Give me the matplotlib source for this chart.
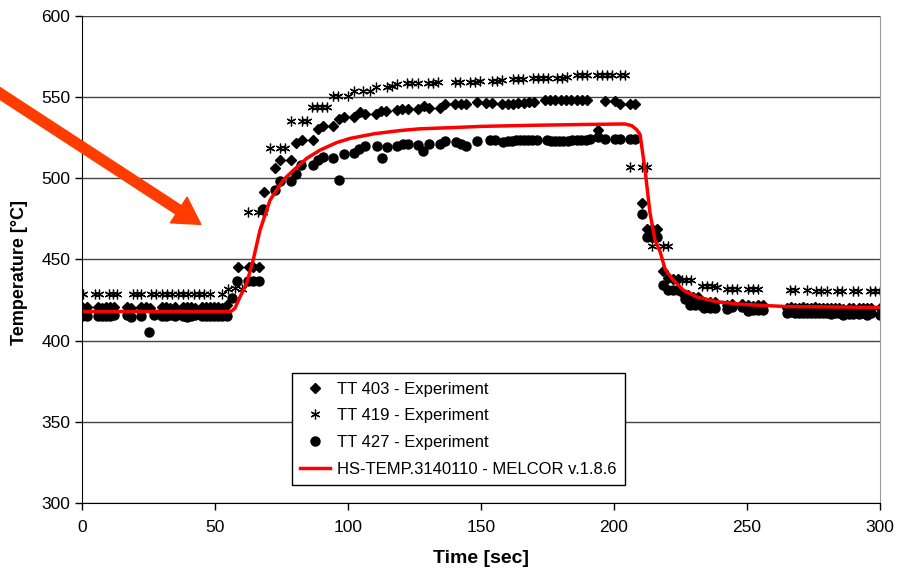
import matplotlib
matplotlib.use('Agg')
import matplotlib.pyplot as plt
from matplotlib.patches import FancyArrowPatch

plt.rcParams['font.family'] = ['Liberation Sans', 'DejaVu Sans']

# TT 403 (diamonds)
t403 = [0, 2, 6, 7.5, 9, 10.5, 12, 17, 18.5, 22, 24, 25.5, 30, 31.5, 33, 35, 38, 39.5, 41, 42.5,
        45, 46.5, 48, 49.5, 51, 52.5, 54.5,
        58.8, 62.9, 64.4, 66.7, 68.5, 72.6, 74.5, 78.5, 80.5, 82.6, 86.7, 88.6, 90.5, 94.5, 96.5,
        98.5, 102.4, 104.5, 106.5, 110.4, 112.4, 114.4, 118.3, 120.4, 122.4, 126.4, 128.6, 130.5,
        134.5, 136.5, 140.3, 142.3, 144.3, 148.4, 152, 154, 158, 160, 162, 164, 166, 168, 170,
        174, 176, 178, 180, 182, 184, 186, 188, 190, 194, 196.5, 200.4, 202.3, 206, 208,
        210.4, 212.3, 214.2, 216, 218.5, 220.4, 222.3, 224.2, 226, 228, 229.8, 231.7, 234, 236, 238,
        242.4, 244.2, 248, 250.5, 252.4, 254.3, 256,
        265, 266.5, 268, 269.5, 271, 272.5, 274, 275.5, 277, 278.5, 280, 281.5, 283, 284.5, 286,
        288.5, 290, 292, 293.5, 295, 296.5, 300]
T403 = [421, 421, 421, 420, 421, 421, 421, 421, 420, 421, 421, 420, 421, 421, 420, 421, 421, 421, 421, 420,
        421, 421, 421, 421, 421, 420, 422,
        445.5, 445.5, 445.5, 445.5, 491.5, 506.5, 511.5, 511.5, 521.5, 523.5, 523.5, 530.5, 532, 532, 536.5,
        537.5, 537.5, 541, 539.5, 539.5, 541.5, 541.5, 542, 542.5, 542.5, 542.5, 544.5, 543.5,
        543.5, 545.5, 545.5, 545.5, 545.5, 547, 546.5, 546.5, 546, 545.5, 546, 546.5, 546.5, 547, 547,
        548, 548, 548, 548, 548, 548, 548, 548, 548.5, 529.5, 547.8, 547.8, 545.6, 545.6, 545.6,
        484.5, 468.5, 468.5, 468.5, 443, 438.5, 438, 438, 429, 428, 427, 427, 424, 424, 424,
        422, 422.5, 422.5, 422, 421.5, 422, 422,
        420, 420.5, 420, 420, 420.5, 420, 420, 420.5, 420, 420, 420, 420, 420, 420, 419.5,
        420, 420, 420, 420, 420, 420, 420]

# TT 419 (asterisks)
t419 = [0.4, 5, 6.5, 10, 11.5, 13, 19, 20.5, 22, 26, 28, 30, 32, 34, 36, 38, 40, 42, 44, 46, 48, 52.5,
        55, 57.5, 60, 62.5, 66.3, 68.2, 70.7, 74.4, 76.3, 78.5, 82.6, 84.6, 86.3, 88.2, 90.1, 92,
        94.5, 96.4, 100.1, 102.4, 105.8, 108.3, 110.4, 114.5, 116.4, 118.3, 122, 124, 126.2, 130.2,
        132, 133.9, 140.2, 142.1, 145.9, 147.7, 149.6, 154, 155.9, 157.8, 162.2, 164, 165.9, 169.7,
        171.5, 173.4, 175.3, 178.4, 180.3, 182.2, 186, 187.9, 189.7, 193.5, 195.4, 197.3, 199.1,
        202.3, 204.1, 206, 210.4, 212.3, 214.2, 218.5, 220.4, 225.4, 227.2, 229, 233, 235, 236.7,
        238.6, 242.4, 244.2, 246.1, 250.5, 252.4, 254.3, 266.2, 268, 272.4, 276, 278, 280, 283.7,
        285.6, 290, 291.8, 296.2, 298.1, 300]
T419 = [429, 429, 429, 429, 429, 429, 429, 429, 429, 429, 429, 429, 429, 429, 429, 429, 429, 429, 429, 429, 429, 429,
        432, 432.5, 432, 479.5, 479.5, 479.5, 518.5, 518.5, 518.5, 535.5, 535.5, 535.5, 544, 544, 544, 544,
        550.5, 550.5, 550.5, 553.8, 553.8, 553.8, 556.5, 556.5, 557, 558, 558.5, 558.5, 559, 559,
        559, 559.5, 559.5, 559.5, 559.5, 559.5, 560, 560, 560, 560.5, 561, 561, 561, 561.5,
        561.5, 561.5, 561.5, 561.5, 561.5, 562.5, 563.5, 563.5, 563.5, 563.5, 563.5, 563.5, 563.5,
        563.5, 563.5, 507, 507, 507, 458.5, 458.5, 458.5, 437.5, 437.5, 437.5, 433.5, 433.5, 433.5,
        433, 432, 432, 432, 432, 432, 432, 431, 431, 431, 430.5, 430.5, 430.5, 430.5,
        430.5, 430.5, 430.5, 430.5, 430.5, 430.5]

# TT 427 (circles)
t427 = [0, 2, 6, 7.5, 9, 10.5, 12, 17, 18.5, 22, 25, 27, 30, 31.5, 33, 35, 38, 39.5, 41, 42.5,
        45, 46.5, 48, 49.5, 51, 52.5, 54.5,
        56.5, 58.4, 62.5, 64.4, 66.7, 68.2, 72.6, 74.4, 78.5, 80.5, 82.3, 86.7, 88.6, 90.5, 94.5,
        96.6, 98.5, 102.4, 104.3, 106.4, 110.8, 112.7, 114.5, 118.5, 120.6, 122.4, 126.4, 128.3,
        130.5, 134.6, 136.5, 140.6, 142.5, 144.4, 148.4,
        153.5, 155.4, 158.4, 160, 161.5, 163, 164.5, 166, 167.5, 169, 170.9, 174.7, 176.3, 178,
        179.5, 181, 182.7, 184.3, 186, 187.6, 189.3, 191, 194.1, 196.6, 200.4, 202.3, 206, 208,
        210.4, 212.3, 214.2, 216, 218.3, 220.4, 222.3, 224.2, 226.7, 228.5, 230.3, 232.2, 234, 236, 238,
        242.4, 244.2, 248, 250.5, 252.4, 254.3, 256,
        265, 266.5, 268, 269.5, 271, 272.5, 274, 275.5, 277, 278.5, 280, 281.5, 283, 284.5, 286,
        288.5, 290, 292, 293.5, 295, 296.5, 300]
T427 = [415, 415, 415, 415, 415, 415.5, 416, 416, 414.5, 415, 405.5, 416, 415, 415, 416, 415, 415, 414.5, 415, 416,
        415, 415, 415.5, 415.5, 415, 415, 415,
        426, 437, 437, 437, 437, 481, 493, 498.5, 498.5, 502.5, 508.5, 508.5, 511.5, 513, 512.5,
        499, 515, 515.5, 518, 520, 520, 512.5, 519.5, 520, 521, 521, 520.5, 517,
        521, 521, 523, 522.5, 521, 520, 523,
        523.5, 523.5, 522.5, 523, 523, 523.5, 523.5, 523.5, 523.5, 523.5, 523.5, 523.5, 523, 523,
        523, 523, 523, 523.5, 523.5, 523.5, 523.5, 524, 525.5, 524.5, 524.5, 524.5, 524.5, 524.5,
        478, 464, 464, 464, 434.5, 431, 431, 431, 425.5, 422, 422, 422, 420, 420, 420,
        419.5, 420.5, 420.5, 418.5, 419, 419, 419,
        417, 417.5, 417, 417, 417, 417, 417, 417, 417, 417, 417, 416.5, 417, 417, 416,
        416.5, 416.5, 416.5, 417, 416, 417, 416]

# MELCOR HS-TEMP.3140110
t_mel = [0, 56, 57.5, 59.4, 61.9, 64.4, 66.9, 70.7, 75.7, 79.5, 84.5, 89.5, 95.7, 100.8, 110, 120,
         127, 140, 150, 170, 190, 204, 206.6, 208.5, 209.8, 211.7, 213.5, 215.4, 217.3, 219.2,
         222.3, 226, 231, 238.6, 247.4, 253.6, 265, 300]
T_mel = [418, 418, 420, 427, 435.3, 450, 468, 486.6, 499, 505, 512.3, 517.4, 522, 524.6, 527.5, 529.5,
         530.5, 531.3, 532, 532.7, 533.2, 533.5, 532.5, 530, 527, 505, 479, 462, 455, 444,
         437.3, 431.2, 427, 424, 422.5, 421.9, 421, 420.5]

fig = plt.figure(figsize=(8.99, 5.69), dpi=100)
ax = fig.add_axes([82 / 899, 66 / 569, 798 / 899, 487 / 569])

ax.plot(t403, T403, linestyle='none', marker='D', ms=5.3, color='black', label='TT 403 - Experiment')
ax.plot(t419, T419, linestyle='none', marker=(6, 2, 0), ms=7, mew=0.9, color='black',
        label='TT 419 - Experiment')
ax.plot(t427, T427, linestyle='none', marker='o', ms=6.5, color='black', label='TT 427 - Experiment')
ax.plot(t_mel, T_mel, color='red', lw=2.5, label='HS-TEMP.3140110 - MELCOR v.1.8.6')

ax.set_xlim(0, 300)
ax.set_ylim(300, 600)
ax.set_xticks(range(0, 301, 50))
ax.set_yticks(range(300, 601, 50))
ax.yaxis.grid(True, color='#444444', lw=1)
ax.set_axisbelow(True)
ax.spines['top'].set_visible(False)
ax.spines['right'].set_color('#999999')
ax.tick_params(labelsize=12.5, length=5, width=1)
ax.tick_params(axis='x', pad=7)
ax.set_xlabel('Time [sec]', fontsize=14, fontweight='bold', labelpad=11)
ax.set_ylabel('Temperature [\u00b0C]', fontsize=13, fontweight='bold')
ax.yaxis.set_label_coords(-0.068, 0.474)

leg = ax.legend(loc='lower left', bbox_to_anchor=(0.263, 0.037), borderaxespad=0, fontsize=12,
                frameon=True, fancybox=False, edgecolor='black', framealpha=1, handlelength=1.8,
                handletextpad=0.4, labelspacing=0.7, borderpad=0.5)
leg.get_frame().set_linewidth(1)

arrow = FancyArrowPatch((-0.01, 0.846), (0.226, 0.603), transform=fig.transFigure,
                        arrowstyle='simple,tail_width=0.36,head_width=1.1,head_length=0.95',
                        mutation_scale=20, color='#FF3C00', clip_on=False)
fig.patches.append(arrow)

fig.savefig('out.png', dpi=100)
